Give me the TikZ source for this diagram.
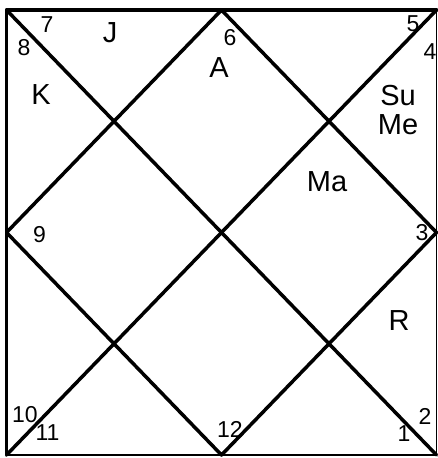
\documentclass[tikz,border=0pt]{standalone}
\usepackage{fontspec}
\setmainfont{Liberation Sans}
\begin{document}
\begin{tikzpicture}[x=1pt,y=-1pt,
  thick line/.style={line width=3.5pt,line cap=round,line join=round},
  thin line/.style={line width=1.2pt},
  num/.style={inner sep=0pt,anchor=center,font=\fontsize{23}{25}\selectfont},
  planet/.style={inner sep=0pt,anchor=center,font=\fontsize{29}{31}\selectfont}]
\useasboundingbox[fill=white] (0,0) rectangle (438,458);
\coordinate (TL) at (6.5,10);
\coordinate (TR) at (436.5,10);
\coordinate (BL) at (6.5,455);
\coordinate (BR) at (436.5,455);
\coordinate (T) at (221.5,10);
\coordinate (R) at (436.5,232.5);
\coordinate (B) at (221.5,455);
\coordinate (L) at (6.5,232.5);
% border
\draw[thin line] (TR) -- (BR) -- (BL);
\draw[thick line] (BL) -- (TL) -- (TR);
% diagonals
\draw[thick line] (TL) -- (BR);
\draw[thick line] (TR) -- (BL);
% diamond
\draw[thick line] (T) -- (R) -- (B) -- (L) -- cycle;
% house numbers
\node[num] (n7) at (47,25) {7};
\node[num] (n8) at (24,47.5) {8};
\node[num] (n6) at (230,38) {6};
\node[num] (n5) at (413,24) {5};
\node[num] (n4) at (430,52) {4};
\node[num] (n9) at (39.5,235) {9};
\node[num] (n3) at (422,233) {3};
\node[num] (n10) at (25,415) {10};
\node[num] (n11) at (47.5,433) {11};
\node[num] (n12) at (230,429) {12};
\node[num] (n1) at (404,434) {1};
\node[num] (n2) at (425,416) {2};
% planets
\node[planet] (pJ) at (110,33) {J};
\node[planet] (pK) at (41,95) {K};
\node[planet] (pA) at (219,68) {A};
\node[planet] (pSu) at (398,96) {Su};
\node[planet] (pMe) at (398,125) {Me};
\node[planet] (pMa) at (327,182) {Ma};
\node[planet] (pR) at (399,321) {R};
\end{tikzpicture}
\end{document}
